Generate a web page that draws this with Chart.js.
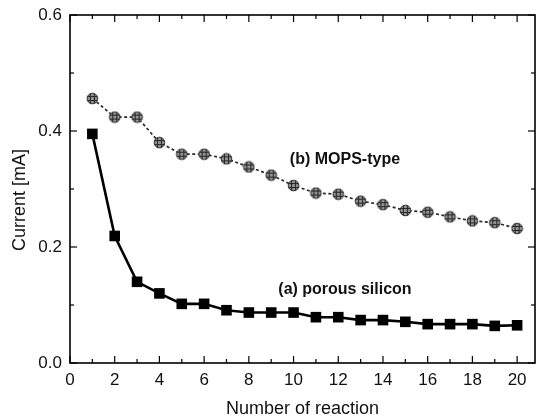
<!DOCTYPE html>
<html>
<head>
<meta charset="utf-8">
<script src="https://cdn.jsdelivr.net/npm/chart.js@4.4.0/dist/chart.umd.min.js"></script>
<style>
html,body{margin:0;padding:0;background:#fff;}
#wrap{width:544px;height:420px;}
</style>
</head>
<body>
<div id="wrap"><canvas id="c" width="544" height="420"></canvas></div>
<script>
// ---- data ----
const reactions = [1,2,3,4,5,6,7,8,9,10,11,12,13,14,15,16,17,18,19,20];
const porousSilicon = [0.395,0.219,0.140,0.120,0.102,0.102,0.091,0.087,0.087,0.087,0.079,0.079,0.074,0.074,0.071,0.067,0.067,0.067,0.064,0.065];
const mopsType = [0.456,0.424,0.424,0.380,0.360,0.360,0.352,0.338,0.324,0.306,0.293,0.291,0.279,0.273,0.263,0.260,0.252,0.245,0.242,0.232];
const seriesNames = ['(a) porous silicon','(b) MOPS-type'];
const xTickLabels = ['0','2','4','6','8','10','12','14','16','18','20'];
const yTickLabels = ['0.0','0.2','0.4','0.6'];
const xTitle = 'Number of reaction';
const yTitle = 'Current [mA]';

// hatched grey dot marker
function hatchedDot(){
  const c = document.createElement('canvas');
  c.width = 13; c.height = 13;
  const g = c.getContext('2d');
  g.beginPath(); g.arc(6.5,6.5,5.5,0,2*Math.PI);
  g.fillStyle = '#929292'; g.fill();
  g.save(); g.clip();
  g.strokeStyle = '#262626'; g.lineWidth = 1;
  for (const p of [4.5, 8.5]) {
    g.beginPath(); g.moveTo(p,0); g.lineTo(p,13); g.stroke();
    g.beginPath(); g.moveTo(0,p); g.lineTo(13,p); g.stroke();
  }
  g.restore();
  g.beginPath(); g.arc(6.5,6.5,5.3,0,2*Math.PI);
  g.strokeStyle = '#2e2e2e'; g.lineWidth = 1; g.stroke();
  return c;
}

const frameTicks = {
  id: 'frameTicks',
  afterDatasetsDraw(chart) {
    const {ctx, chartArea: a, scales: {x, y}} = chart;
    ctx.save();
    ctx.strokeStyle = '#000';
    const seg = (x1,y1,x2,y2) => { ctx.beginPath(); ctx.moveTo(x1,y1); ctx.lineTo(x2,y2); ctx.stroke(); };
    ctx.lineWidth = 1.2;
    for (let v = 0; v <= 20; v++) {
      const px = x.getPixelForValue(v);
      const L = v % 2 === 0 ? 7 : 4;
      seg(px, a.bottom, px, a.bottom - L);
      seg(px, a.top, px, a.top + L);
    }
    for (let k = 0; k <= 6; k++) {
      const py = y.getPixelForValue(k / 10);
      const L = k % 2 === 0 ? 7 : 4;
      seg(a.left, py, a.left + L, py);
      seg(a.right, py, a.right - L, py);
    }
    ctx.lineWidth = 1.6;
    ctx.strokeRect(a.left, a.top, a.right - a.left, a.bottom - a.top);
    ctx.restore();
  }
};

const notes = {
  id: 'notes',
  afterDraw(chart, args, opts) {
    const {ctx, chartArea: a, scales: {x, y}} = chart;
    ctx.save();
    ctx.fillStyle = '#111';
    ctx.font = 'bold 16px "Liberation Sans", Arial, sans-serif';
    ctx.textAlign = 'center';
    ctx.textBaseline = 'middle';
    for (const n of opts.items) {
      ctx.fillText(n.text, x.getPixelForValue(n.x), y.getPixelForValue(n.y));
    }
    // y-axis title
    ctx.font = '18px "Liberation Sans", Arial, sans-serif';
    ctx.translate(20, (a.top + a.bottom) / 2 + 11);
    ctx.rotate(-Math.PI / 2);
    ctx.fillText(opts.yTitle, 0, 0);
    ctx.restore();
  }
};

const font = 'Liberation Sans, Arial, sans-serif';

new Chart(document.getElementById('c'), {
  type: 'line',
  data: {
    datasets: [
      {
        label: seriesNames[1],
        data: reactions.map((r, i) => ({x: r, y: mopsType[i]})),
        borderColor: '#2a2a2a',
        borderWidth: 1.7,
        borderDash: [3, 2.5],
        pointStyle: hatchedDot(),
        pointRadius: 6,
        fill: false,
        tension: 0
      },
      {
        label: seriesNames[0],
        data: reactions.map((r, i) => ({x: r, y: porousSilicon[i]})),
        borderColor: '#000',
        borderWidth: 2.6,
        pointStyle: 'rect',
        pointRadius: 7.5,
        pointBackgroundColor: '#000',
        pointBorderColor: '#000',
        pointBorderWidth: 0,
        fill: false,
        tension: 0
      }
    ]
  },
  options: {
    responsive: false,
    animation: false,
    devicePixelRatio: 1,
    layout: {padding: {top: 15, right: 9, left: 0, bottom: 0}},
    plugins: {
      legend: {display: false},
      tooltip: {enabled: false},
      notes: {
        yTitle: yTitle,
        items: [
          {text: seriesNames[1], x: 12.3, y: 0.350},
          {text: seriesNames[0], x: 12.3, y: 0.126}
        ]
      }
    },
    scales: {
      x: {
        type: 'linear',
        min: 0, max: 20.8,
        grid: {display: false, drawTicks: false},
        border: {display: false},
        ticks: {
          stepSize: 2, includeBounds: false, autoSkip: false, maxRotation: 0,
          padding: 7, color: '#111',
          font: {family: font, size: 17},
          callback: (v, i) => xTickLabels[i]
        },
        title: {display: true, text: xTitle, color: '#111', font: {family: font, size: 18}, padding: {top: 0, bottom: 0}},
        afterFit: s => { s.height = 57; s.paddingLeft = 0; s.paddingRight = 0; }
      },
      y: {
        type: 'linear',
        min: 0, max: 0.6,
        grid: {display: false, drawTicks: false},
        border: {display: false},
        ticks: {
          stepSize: 0.2, padding: 8, color: '#111',
          font: {family: font, size: 17},
          callback: (v, i) => yTickLabels[i]
        },
        title: {display: false},
        afterFit: s => { s.width = 70; s.paddingTop = 0; s.paddingBottom = 0; }
      }
    }
  },
  plugins: [frameTicks, notes]
});
</script>
</body>
</html>
